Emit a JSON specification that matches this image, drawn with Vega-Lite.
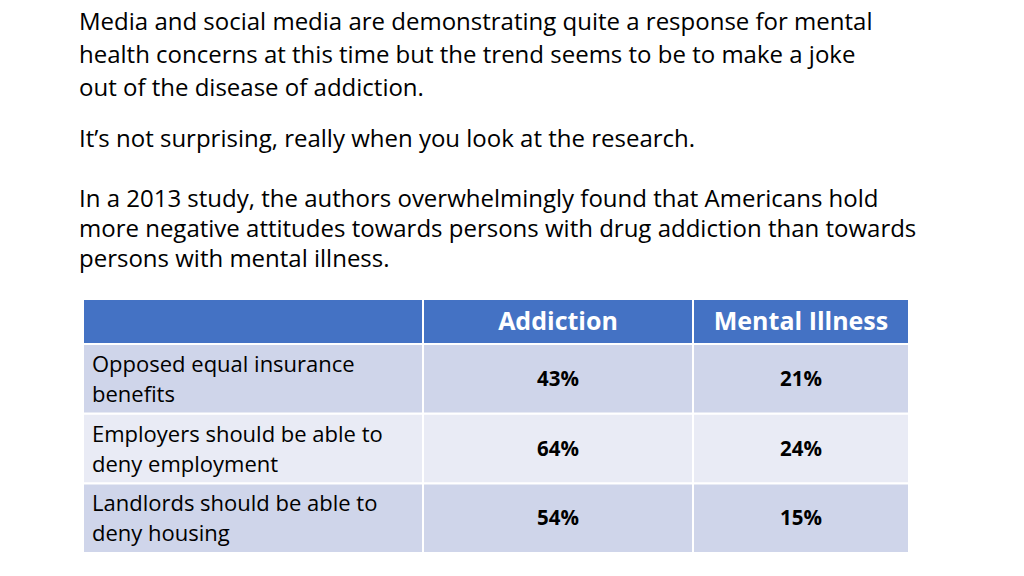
{
  "$schema": "https://vega.github.io/schema/vega-lite/v6.json",
  "background": "white",
  "padding": {"left": 79, "top": 11, "right": 10, "bottom": 10},
  "title": {
    "text": ["Media and social media are demonstrating quite a response for mental", "health concerns at this time but the trend seems to be to make a joke", "out of the disease of addiction."],
    "subtitle": ["It’s not surprising, really when you look at the research.", "\u200b", "In a 2013 study, the authors overwhelmingly found that Americans hold", "more negative attitudes towards persons with drug addiction than towards", "persons with mental illness."],
    "anchor": "start",
    "frame": "group",
    "dx": -5,
    "font": "Open Sans",
    "fontSize": 24,
    "fontWeight": "normal",
    "color": "black",
    "lineHeight": 33,
    "subtitleFont": "Open Sans",
    "subtitleFontSize": 24,
    "subtitleColor": "black",
    "subtitleLineHeight": 30,
    "subtitlePadding": 27,
    "offset": 28
  },
  "datasets": {
    "table": [
      {"measure": "Opposed equal insurance\nbenefits", "addiction": 0.43, "mental": 0.21},
      {"measure": "Employers should be able to\ndeny employment", "addiction": 0.64, "mental": 0.24},
      {"measure": "Landlords should be able to\ndeny housing", "addiction": 0.54, "mental": 0.15}
    ]
  },
  "spacing": 2,
  "vconcat": [
    {
      "spacing": 2,
      "hconcat": [
        {
          "width": 338, "height": 43,
          "data": {"values": [{"header": "blank"}]},
          "mark": {"type": "rect", "color": "#4472C4"},
          "encoding": {
            "x": {"value": 0}, "x2": {"value": "width"},
            "y": {"value": 0}, "y2": {"value": "height"}
          }
        },
        {
          "width": 268, "height": 43,
          "view": {"fill": "#4472C4", "stroke": null},
          "data": {"values": [{"header": "Addiction"}]},
          "mark": {"type": "text", "font": "Open Sans", "fontSize": 25, "fontWeight": "bold", "color": "white", "baseline": "middle"},
          "encoding": {"text": {"field": "header"}}
        },
        {
          "width": 214, "height": 43,
          "view": {"fill": "#4472C4", "stroke": null},
          "data": {"values": [{"header": "Mental Illness"}]},
          "mark": {"type": "text", "font": "Open Sans", "fontSize": 25, "fontWeight": "bold", "color": "white", "baseline": "middle"},
          "encoding": {"text": {"field": "header"}}
        }
      ]
    },
    {
      "spacing": 2,
      "hconcat": [
        {
          "width": 338, "height": 207,
          "data": {"name": "table"},
          "encoding": {
            "y": {"field": "measure", "type": "nominal", "sort": null, "axis": null, "scale": {"paddingInner": 0.03, "paddingOuter": 0}}
          },
          "layer": [
            {
              "mark": {"type": "rect"},
              "encoding": {
                "x": {"value": 0}, "x2": {"value": "width"},
                "fill": {"field": "measure", "type": "nominal", "legend": null, "scale": {"range": ["#CFD5EA", "#E9EBF5", "#CFD5EA"]}, "sort": null}
              }
            },
            {
              "mark": {"type": "text", "align": "left", "baseline": "middle", "dy": -14, "font": "Open Sans", "fontSize": 22, "color": "black", "lineBreak": "\n", "lineHeight": 30},
              "encoding": {"x": {"value": 8}, "text": {"field": "measure"}}
            }
          ]
        },
        {
          "width": 268, "height": 207,
          "data": {"name": "table"},
          "encoding": {
            "y": {"field": "measure", "type": "nominal", "sort": null, "axis": null, "scale": {"paddingInner": 0.03, "paddingOuter": 0}}
          },
          "layer": [
            {
              "mark": {"type": "rect"},
              "encoding": {
                "x": {"value": 0}, "x2": {"value": "width"},
                "fill": {"field": "measure", "type": "nominal", "legend": null, "scale": {"range": ["#CFD5EA", "#E9EBF5", "#CFD5EA"]}, "sort": null}
              }
            },
            {
              "mark": {"type": "text", "align": "center", "baseline": "middle", "dy": 1, "font": "Open Sans", "fontSize": 20.5, "fontWeight": "bold", "color": "black"},
              "encoding": {"text": {"field": "addiction", "type": "quantitative", "format": ".0%"}}
            }
          ]
        },
        {
          "width": 214, "height": 207,
          "data": {"name": "table"},
          "encoding": {
            "y": {"field": "measure", "type": "nominal", "sort": null, "axis": null, "scale": {"paddingInner": 0.03, "paddingOuter": 0}}
          },
          "layer": [
            {
              "mark": {"type": "rect"},
              "encoding": {
                "x": {"value": 0}, "x2": {"value": "width"},
                "fill": {"field": "measure", "type": "nominal", "legend": null, "scale": {"range": ["#CFD5EA", "#E9EBF5", "#CFD5EA"]}, "sort": null}
              }
            },
            {
              "mark": {"type": "text", "align": "center", "baseline": "middle", "dy": 1, "font": "Open Sans", "fontSize": 20.5, "fontWeight": "bold", "color": "black"},
              "encoding": {"text": {"field": "mental", "type": "quantitative", "format": ".0%"}}
            }
          ]
        }
      ]
    }
  ],
  "config": {"view": {"stroke": null}}
}
